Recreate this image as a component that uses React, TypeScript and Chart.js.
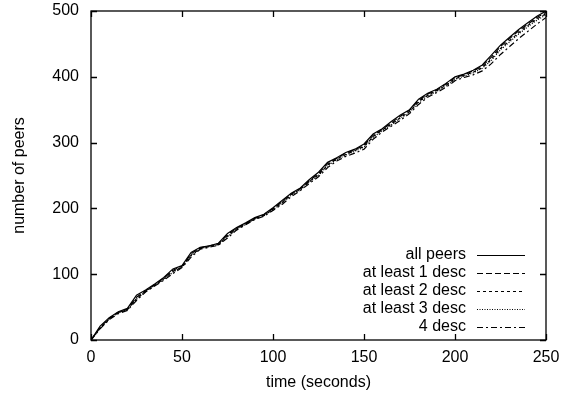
import React, { useEffect, useRef } from 'react';
import { Chart, registerables } from 'chart.js';

Chart.register(...registerables);

const times = [0,5,10,15,20,25,30,35,40,45,50,55,60,65,70,75,80,85,90,95,100,105,110,115,120,125,130,135,140,145,150,155,160,165,170,175,180,185,190,195,200,205,210,215,220,225,230,235,240,245,250];

const allPeers = [0,21,34,43,48,68,76,85,95,108,113,133,141,143,147,162,171,178,186,191,201,212,223,231,244,255,270,277,285,290,298,313,321,332,342,350,366,375,381,390,400,404,410,418,433,448,460,472,482,492,500];
const atLeast1 = [0,19,33,42,47,65,75,84,94,106,112,131,140,143,146,160,170,177,185,190,200,210,222,230,242,253,268,276,284,289,296,311,320,330,340,349,364,374,380,389,399,403,409,416,430,446,458,470,480,490,498];
const atLeast2 = [0,18,32,42,46,63,74,83,93,104,111,129,139,142,145,158,169,176,184,189,199,209,221,229,241,251,266,275,282,288,294,309,319,328,338,347,362,372,379,387,397,402,407,414,427,443,455,467,478,488,496];
const atLeast3 = [0,18,32,41,46,62,74,83,92,103,111,128,139,142,145,157,168,176,184,189,198,208,220,228,240,250,265,274,281,287,293,308,318,327,337,346,361,371,378,386,396,401,406,413,425,441,453,465,476,486,494];
const fourDesc = [0,17,31,40,45,60,73,82,91,101,110,126,138,141,144,155,167,175,183,188,197,206,218,227,238,248,262,272,279,284,290,305,316,325,334,344,358,369,376,384,394,399,403,409,420,434,446,458,469,480,490];

const seriesLabels = ['all peers', 'at least 1 desc', 'at least 2 desc', 'at least 3 desc', '4 desc'];
const seriesValues = [allPeers, atLeast1, atLeast2, atLeast3, fourDesc];
const seriesDashes: number[][] = [[], [6, 3], [3, 3], [1, 1.5], [6, 3, 2, 3]];

const xTicks = [0, 50, 100, 150, 200, 250];
const yTicks = [0, 100, 200, 300, 400, 500];

const FONT = '"Liberation Sans", Arial, Helvetica, sans-serif';
const FS = 16;

const AREA = { left: 91, top: 11, right: 546, bottom: 340 };

export default function App() {
  const ref = useRef<HTMLCanvasElement>(null);

  useEffect(() => {
    let xHeight = 395 - AREA.bottom;
    let yWidth = AREA.left;

    const framePlugin = {
      id: 'frameTicksLegend',
      afterDatasetsDraw(chart: any) {
        const { ctx, chartArea } = chart;
        const { left, right, top, bottom } = chartArea;
        const xs = chart.scales.x;
        const ys = chart.scales.y;
        ctx.save();
        ctx.strokeStyle = '#000';
        ctx.lineWidth = 1.3;
        ctx.setLineDash([]);
        const TL = 6;
        ctx.beginPath();
        for (const v of xTicks) {
          const px = Math.round(xs.getPixelForValue(v)) + 0.5;
          ctx.moveTo(px, bottom); ctx.lineTo(px, bottom - TL);
          ctx.moveTo(px, top); ctx.lineTo(px, top + TL);
        }
        for (const v of yTicks) {
          const py = Math.round(ys.getPixelForValue(v)) + 0.5;
          ctx.moveTo(left, py); ctx.lineTo(left + TL, py);
          ctx.moveTo(right, py); ctx.lineTo(right - TL, py);
        }
        ctx.stroke();
        ctx.strokeRect(left, top, right - left, bottom - top);

        // legend: right-aligned text, line sample to its right
        ctx.font = `${FS}px ${FONT}`;
        ctx.fillStyle = '#000';
        ctx.textAlign = 'right';
        ctx.textBaseline = 'middle';
        chart.data.datasets.forEach((ds: any, i: number) => {
          const y = bottom - 85 + i * 18;
          ctx.fillText(ds.label, right - 80, y);
          ctx.beginPath();
          ctx.lineWidth = 1.2;
          ctx.setLineDash(ds.borderDash || []);
          ctx.moveTo(right - 69, y + 0.5);
          ctx.lineTo(right - 21, y + 0.5);
          ctx.stroke();
        });
        ctx.restore();
      },
    };

    const pad = { top: AREA.top, right: 569 - AREA.right, left: 0, bottom: 0 };

    const chart = new Chart(ref.current as HTMLCanvasElement, {
      type: 'line',
      data: {
        datasets: seriesLabels.map((label, i) => ({
          label,
          data: times.map((t, j) => ({ x: t, y: seriesValues[i][j] })),
          borderColor: '#000',
          borderWidth: 1.2,
          borderDash: seriesDashes[i],
          pointRadius: 0,
          fill: false,
          tension: 0,
        })),
      },
      options: {
        responsive: false,
        animation: false,
        layout: { padding: { ...pad } },
        plugins: { legend: { display: false }, tooltip: { enabled: false } },
        scales: {
          x: {
            type: 'linear',
            min: 0,
            max: 250,
            afterBuildTicks: (s: any) => { s.ticks = xTicks.map((v) => ({ value: v })); },
            ticks: { color: '#000', padding: 0, font: { family: FONT, size: FS }, maxRotation: 0 },
            grid: { display: true, drawOnChartArea: false, drawTicks: true, tickLength: 8, tickColor: 'rgba(0,0,0,0)' },
            border: { display: false },
            title: { display: true, text: 'time (seconds)', color: '#000', font: { family: FONT, size: FS }, padding: { top: 0, bottom: 3 } },
            afterFit: (s: any) => { s.height = xHeight; },
          },
          y: {
            type: 'linear',
            min: 0,
            max: 500,
            afterBuildTicks: (s: any) => { s.ticks = yTicks.map((v) => ({ value: v })); },
            ticks: { color: '#000', padding: 0, font: { family: FONT, size: FS } },
            grid: { display: true, drawOnChartArea: false, drawTicks: true, tickLength: 12, tickColor: 'rgba(0,0,0,0)' },
            border: { display: false },
            title: { display: true, text: 'number of peers', color: '#000', font: { family: FONT, size: FS }, padding: { top: 10, bottom: 0 } },
            afterFit: (s: any) => { s.width = yWidth; },
          },
        },
      },
      plugins: [framePlugin],
    });

    // nudge the layout so the plot area lands on the target box
    for (let k = 0; k < 4; k++) {
      const ca = chart.chartArea;
      const dTop = AREA.top - ca.top;
      const dRight = ca.right - AREA.right;
      const dBottom = ca.bottom - AREA.bottom;
      const dLeft = AREA.left - ca.left;
      if (Math.abs(dTop) < 0.3 && Math.abs(dRight) < 0.3 && Math.abs(dBottom) < 0.3 && Math.abs(dLeft) < 0.3) break;
      pad.top = Math.max(0, pad.top + dTop);
      pad.right = Math.max(0, pad.right + dRight);
      xHeight += dBottom;
      yWidth += dLeft;
      (chart.options as any).layout.padding = { ...pad };
      chart.update('none');
    }

    return () => chart.destroy();
  }, []);

  return (
    <div style={{ position: 'fixed', left: 0, top: 0, width: 569, height: 395, background: '#fff' }}>
      <canvas ref={ref} width={569} height={395} style={{ display: 'block', width: 569, height: 395 }} />
    </div>
  );
}
